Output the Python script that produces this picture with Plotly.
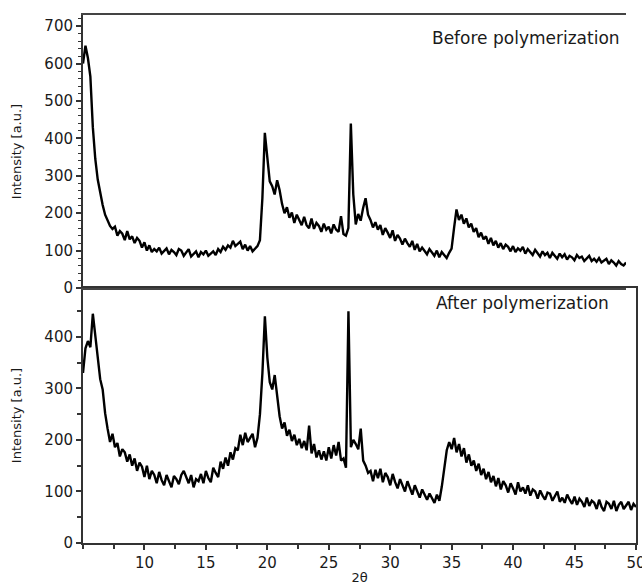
import numpy as np
import plotly.graph_objects as go

# 2-theta grid (degrees), step 0.2
theta_before = np.round(np.arange(5.0, 49.21, 0.2), 1)
theta_after = np.round(np.arange(5.0, 50.01, 0.2), 1)

# Intensity before polymerization
before = [
    600, 648, 615, 565, 430, 345, 290, 250, 222, 196,   # 5.0 - 6.8
    182, 166, 158, 164, 140, 152, 145, 128, 152, 130,   # 7.0 - 8.8
    138, 120, 134, 126, 108, 122, 100, 114, 96, 104,    # 9.0 - 10.8
    98, 108, 92, 100, 106, 90, 102, 96, 88, 104,        # 11.0 - 12.8
    100, 86, 94, 104, 84, 92, 98, 82, 96, 90,           # 13.0 - 14.8
    100, 86, 92, 98, 88, 104, 96, 110, 102, 114,        # 15.0 - 16.8
    108, 126, 112, 118, 124, 104, 116, 100, 112, 98,    # 17.0 - 18.8
    104, 112, 128, 240, 415, 350, 285, 272, 250, 288,   # 19.0 - 20.8
    262, 225, 200, 216, 188, 202, 174, 196, 180, 168,   # 21.0 - 22.8
    190, 168, 160, 186, 158, 174, 166, 150, 172, 156,   # 23.0 - 24.8
    164, 146, 170, 156, 150, 192, 144, 140, 160, 440,   # 25.0 - 26.8
    250, 170, 198, 180, 214, 240, 196, 182, 162, 176,   # 27.0 - 28.8
    156, 168, 142, 160, 148, 134, 154, 126, 142, 132,   # 29.0 - 30.8
    116, 132, 120, 110, 126, 102, 118, 98, 108, 100,    # 31.0 - 32.8
    90, 104, 94, 86, 100, 82, 96, 88, 80, 94,           # 33.0 - 34.8
    105, 160, 210, 182, 196, 172, 186, 162, 172, 150,   # 35.0 - 36.8
    160, 136, 148, 130, 138, 118, 134, 114, 126, 108,   # 37.0 - 38.8
    120, 104, 116, 110, 98, 112, 96, 106, 100, 110,     # 39.0 - 40.8
    92, 104, 96, 88, 102, 92, 84, 98, 88, 94,           # 41.0 - 42.8
    80, 94, 86, 78, 92, 82, 90, 76, 86, 82,             # 43.0 - 44.8
    74, 88, 80, 84, 72, 80, 86, 72, 78, 70,             # 45.0 - 46.8
    80, 68, 74, 78, 64, 74, 68, 60, 72, 64,             # 47.0 - 48.8
    60, 68,                                             # 49.0 - 49.2
]

# Intensity after polymerization
after = [
    330, 378, 392, 380, 445, 400, 352, 318, 298, 252,   # 5.0 - 6.8
    222, 196, 212, 186, 194, 168, 182, 176, 158, 172,   # 7.0 - 8.8
    150, 164, 140, 156, 148, 128, 150, 124, 140, 132,   # 9.0 - 10.8
    116, 138, 122, 112, 132, 120, 108, 130, 124, 114,   # 11.0 - 12.8
    132, 140, 126, 116, 132, 108, 124, 120, 134, 116,   # 13.0 - 14.8
    140, 126, 118, 146, 136, 128, 158, 144, 166, 150,   # 15.0 - 16.8
    176, 162, 184, 180, 210, 190, 214, 196, 204, 212,   # 17.0 - 18.8
    186, 204, 250, 330, 440, 360, 312, 298, 326, 280,   # 19.0 - 20.8
    246, 222, 234, 208, 220, 198, 210, 190, 202, 184,   # 21.0 - 22.8
    198, 180, 228, 174, 192, 166, 180, 162, 178, 160,   # 23.0 - 24.8
    186, 164, 190, 170, 196, 160, 164, 146, 450, 186,   # 25.0 - 26.8
    200, 192, 182, 222, 160, 150, 136, 140, 120, 142,   # 27.0 - 28.8
    126, 144, 118, 136, 128, 112, 134, 118, 106, 124,   # 29.0 - 30.8
    112, 100, 120, 108, 94, 112, 98, 88, 104, 94,       # 31.0 - 32.8
    84, 96, 88, 78, 94, 82, 110, 150, 180, 196,         # 33.0 - 34.8
    182, 204, 176, 192, 168, 184, 156, 172, 150, 160,   # 35.0 - 36.8
    140, 154, 132, 144, 124, 138, 118, 130, 110, 126,   # 37.0 - 38.8
    104, 120, 112, 98, 116, 106, 94, 118, 100, 108,     # 39.0 - 40.8
    96, 112, 92, 104, 100, 86, 102, 92, 84, 98,         # 41.0 - 42.8
    96, 82, 90, 100, 80, 88, 78, 94, 84, 76,            # 43.0 - 44.8
    90, 74, 86, 80, 70, 88, 72, 82, 78, 66,             # 45.0 - 46.8
    84, 70, 62, 80, 76, 66, 82, 62, 74, 80,             # 47.0 - 48.8
    66, 72, 80, 64, 76, 70,                             # 49.0 - 50.0
]

x_ticks = [10, 15, 20, 25, 30, 35, 40, 45, 50]
top_y_ticks = [0, 100, 200, 300, 400, 500, 600, 700]
bottom_y_ticks = [0, 100, 200, 300, 400]

FONT = "DejaVu Sans, Liberation Sans, Arial, sans-serif"
INK = "#1a1a1a"
AX = "#333"

fig = go.Figure()
fig.add_trace(go.Scatter(x=theta_before, y=before, mode="lines",
                         line=dict(color="black", width=2.4),
                         xaxis="x2", yaxis="y2", showlegend=False))
fig.add_trace(go.Scatter(x=theta_after, y=after, mode="lines",
                         line=dict(color="black", width=2.4),
                         xaxis="x", yaxis="y", showlegend=False))

split = 0.483
axis_common = dict(showgrid=False, zeroline=False, linecolor=AX, linewidth=2,
                   ticks="outside", tickcolor=AX, tickwidth=2, ticklen=5,
                   ticklabeloverflow="allow", automargin=False,
                   tickfont=dict(family=FONT, size=15, color=INK))
title_font = dict(family=FONT, size=13, color=INK)

fig.update_layout(
    width=642, height=585,
    margin=dict(l=83, r=6, t=15, b=42),
    paper_bgcolor="white", plot_bgcolor="white",
    xaxis=dict(domain=[0, 1], range=[5, 50], anchor="y",
               tickvals=x_ticks, showline=True, mirror=True,
               minor=dict(dtick=2.5, tick0=5, ticks="outside", ticklen=4,
                          tickcolor=AX, tickwidth=2),
               title=dict(text="2θ", font=title_font, standoff=4),
               **axis_common),
    yaxis=dict(domain=[0, split], range=[0, 495], anchor="x",
               tickvals=bottom_y_ticks, showline=True, mirror=True,
               minor=dict(dtick=50, ticks="outside", ticklen=4,
                          tickcolor=AX, tickwidth=2),
               title=dict(text="Intensity [a.u.]", font=title_font, standoff=20),
               **axis_common),
    xaxis2=dict(domain=[0, 0.982], range=[5, 49.2], anchor="y2",
                showline=True, mirror=True, showticklabels=False,
                linecolor="#444", linewidth=2, ticks="",
                showgrid=False, zeroline=False),
    yaxis2=dict(domain=[split, 1], range=[0, 730], anchor="x2",
                tickvals=top_y_ticks, showline=True,
                minor=dict(dtick=20, ticks="outside", ticklen=3,
                           tickcolor=AX, tickwidth=1),
                title=dict(text="Intensity [a.u.]", font=title_font, standoff=20),
                **axis_common),
    annotations=[
        dict(text="Before polymerization", x=0.992, y=0.916,
             xref="x2 domain", yref="y2 domain", xanchor="right", yanchor="middle",
             showarrow=False, font=dict(family=FONT, size=17, color=INK)),
        dict(text="After polymerization", x=0.955, y=0.941,
             xref="x domain", yref="y domain", xanchor="right", yanchor="middle",
             showarrow=False, font=dict(family=FONT, size=17, color=INK)),
    ],
)

fig.write_html("out.html")
